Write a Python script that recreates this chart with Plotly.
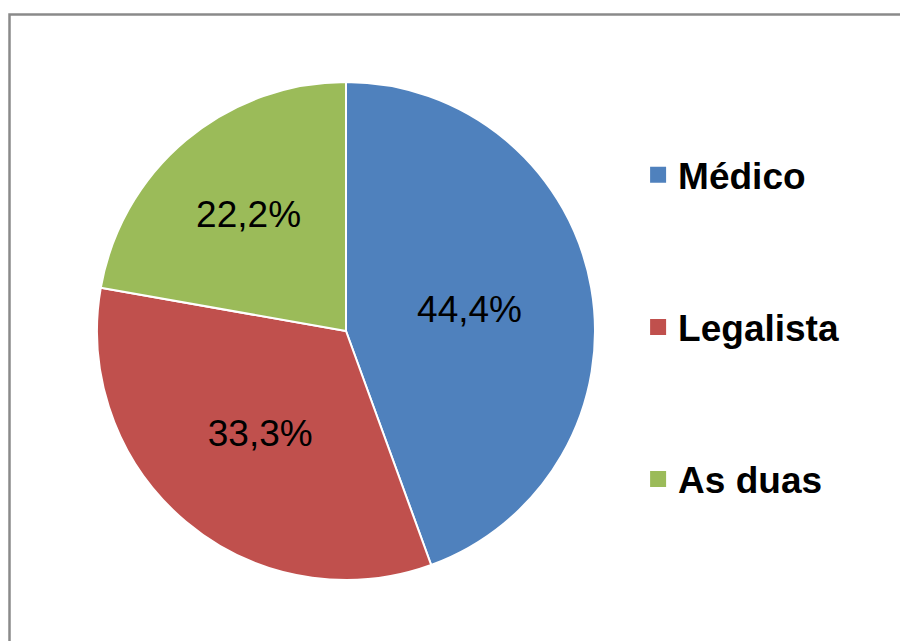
import plotly.graph_objects as go

labels = ["Médico", "Legalista", "As duas"]
values = [44.4, 33.3, 22.2]
colors = ["#4F81BD", "#C0504D", "#9BBB59"]

fig = go.Figure()
fig.add_trace(go.Pie(
    labels=labels, values=values, sort=False, direction="clockwise", rotation=0,
    marker=dict(colors=colors, line=dict(color="white", width=2)),
    texttemplate="%{percent:.1%}", textposition="inside", insidetextorientation="horizontal",
    textfont=dict(family="Liberation Sans, Arial", size=37, color="black"),
    domain=dict(x=[97/900, 595/900], y=[61/641, 559/641]),
    showlegend=False, hoverinfo="label+percent",
))
for lab, col in zip(labels, colors):
    fig.add_trace(go.Scatter(
        x=[None], y=[None], mode="markers", name=lab, legendgroup=lab,
        marker=dict(symbol="square", size=16, color=col),
    ))

fig.update_layout(
    width=900, height=641, margin=dict(l=0, r=0, t=0, b=0),
    paper_bgcolor="white", plot_bgcolor="white",
    separators=",.",
    xaxis=dict(visible=False), yaxis=dict(visible=False),
    legend=dict(x=0.709, y=0.775, xanchor="left", yanchor="top",
                font=dict(family="Liberation Sans, Arial", size=37, color="black", weight="bold"),
                tracegroupgap=101, itemwidth=30, bgcolor="rgba(0,0,0,0)"),
    shapes=[dict(type="rect", xref="paper", yref="paper", x0=9.5/900, y0=-0.1, x1=1.1, y1=(641-14.5)/641,
                 line=dict(color="#8a8a8a", width=2.5))],
)
fig.write_html("out.html")
